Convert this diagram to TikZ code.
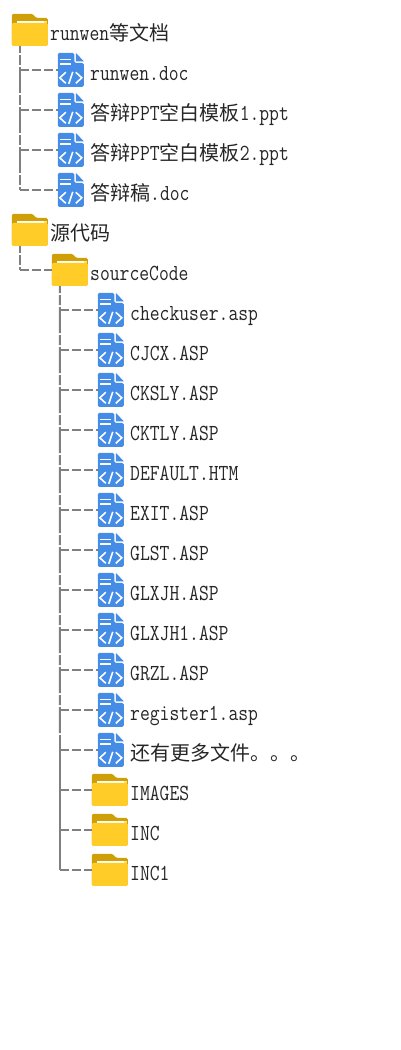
\documentclass[tikz,border=0pt]{standalone}
\usepackage{fontspec}
\newfontfamily\cjk{Noto Sans CJK SC}[Scale=0.87]
\setmonofont{Latin Modern Mono}[FakeStretch=0.83]
\usetikzlibrary{positioning}
\definecolor{tabgold}{HTML}{CF9F08}
\definecolor{foldery}{HTML}{FFCC28}
\definecolor{fileblue}{HTML}{448CE6}
\definecolor{linegray}{HTML}{808080}

\tikzset{
  pics/foldershape/.style={code={
    \fill[tabgold, rounded corners=1.5pt] (0,32) -- (0,0) -- (21,0) -- (24,4) -- (36,4) -- (36,32) -- cycle;
    \fill[foldery!60] (32,7) rectangle (35,9);
    \fill[white] (5,7) rectangle (32,9);
    \fill[foldery, rounded corners=1.5pt] (0,32) -- (0,9) -- (36,9) -- (36,32) -- cycle;
  }},
  pics/fileshape/.style={code={
    \fill[fileblue, rounded corners=1.5pt] (0,34) -- (0,0) -- (16.5,0) -- (16.5,10) -- (26,10) -- (26,34) -- cycle;
    \fill[fileblue] (18,0) -- (26,8.5) -- (18,8.5) -- cycle;
    \draw[white, line width=1.4pt] (2,6.5) -- (13,6.5) (2,11) -- (13,11);
    \draw[white, line width=1.6pt] (8,19.5) -- (2,25) -- (8,30.5) (18,19.5) -- (24,25) -- (18,30.5) (15,19) -- (11,31);
  }},
}

\begin{document}
\begin{tikzpicture}[
    x=1pt, y=-1pt,
    folderbox/.style={rectangle, inner sep=0pt, minimum width=36pt, minimum height=32pt},
    filebox/.style={rectangle, inner sep=0pt, minimum width=26pt, minimum height=34pt},
    lbl/.style={anchor=west, inner sep=0pt, text=black!85, text height=14pt, text depth=5pt,
      font=\fontsize{23}{24}\selectfont\ttfamily},
    trunkline/.style={draw=linegray, line width=2pt, dash pattern=on 26pt off 2pt on 10pt off 2pt, dash phase=19pt},
    twig/.style={draw=linegray, line width=2pt, dash pattern=on 9.5pt off 2.5pt},
  ]
  \useasboundingbox (0,0) rectangle (400,1050);
  % first folder
  \node[folderbox] (docs) at (30,30) {};
  \pic at (docs.north west) {foldershape};
  \coordinate (docsroot) at ([xshift=8pt]docs.south west);
  \node[lbl] (docst) at (50,36) {runwen{\cjk 等文档}};
  \foreach \nm/\rowy/\txt in {
      runw/70/runwen.doc,
      ppta/110/{{\cjk 答辩}PPT{\cjk 空白模板}1.ppt},
      pptb/150/{{\cjk 答辩}PPT{\cjk 空白模板}2.ppt},
      gao/190/{{\cjk 答辩稿}.doc}} {
    \node[filebox] (\nm) at (71,\rowy) {};
    \pic at (\nm.north west) {fileshape};
    \node[lbl] (\nm t) at (90,\rowy+6) {\txt};
    \draw[twig] (docsroot |- \nm.west) -- (\nm.west);
  }
  \draw[trunkline] (docsroot) -- (docsroot |- gao.west);
  % second folder
  \node[folderbox] (src) at (30,230) {};
  \pic at (src.north west) {foldershape};
  \coordinate (srcroot) at ([xshift=8pt]src.south west);
  \node[lbl] (srct) at (50,236) {{\cjk 源代码}};
  \node[folderbox] (code) at (70,270) {};
  \pic at (code.north west) {foldershape};
  \coordinate (coderoot) at ([xshift=8pt]code.south west);
  \node[lbl] (codet) at (90,276) {sourceCode};
  \draw[twig] (srcroot |- code.west) -- (code.west);
  \draw[trunkline] (srcroot) -- (srcroot |- code.west);
  % files in sourceCode
  \foreach \nm/\rowy/\txt in {
      chk/310/checkuser.asp,
      cjcx/350/CJCX.ASP,
      cksly/390/CKSLY.ASP,
      cktly/430/CKTLY.ASP,
      deft/470/DEFAULT.HTM,
      exit/510/EXIT.ASP,
      glst/550/GLST.ASP,
      glxjh/590/GLXJH.ASP,
      glxjha/630/GLXJH1.ASP,
      grzl/670/GRZL.ASP,
      regi/710/register1.asp,
      more/750/{{\cjk 还有更多文件。。。}}} {
    \node[filebox] (\nm) at (111,\rowy) {};
    \pic at (\nm.north west) {fileshape};
    \node[lbl] (\nm t) at (130,\rowy+6) {\txt};
    \draw[twig] (coderoot |- \nm.west) -- (\nm.west);
  }
  % subfolders
  \foreach \nm/\rowy/\txt in {imgs/790/IMAGES, inc/830/INC, inca/870/INC1} {
    \node[folderbox] (\nm) at (110,\rowy) {};
    \pic at (\nm.north west) {foldershape};
    \node[lbl] (\nm t) at (130,\rowy+6) {\txt};
    \draw[twig] (coderoot |- \nm.west) -- (\nm.west);
  }
  \coordinate (solidtop) at (60,735);
  \draw[trunkline] (coderoot) -- (solidtop);
  \draw[draw=linegray, line width=2pt] (solidtop) -- (solidtop |- inca.west);
\end{tikzpicture}
\end{document}
